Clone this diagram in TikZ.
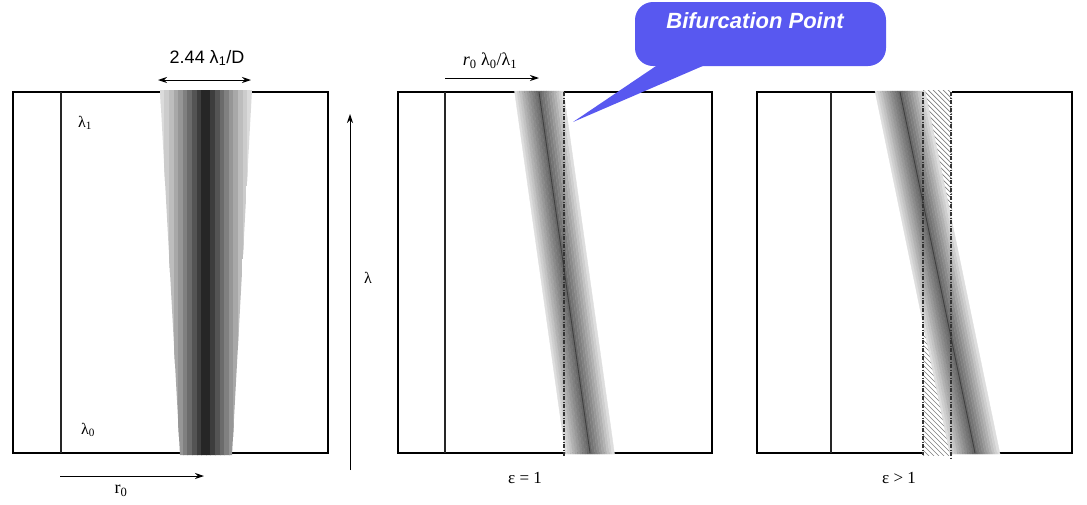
\documentclass[tikz,border=0pt]{standalone}
\usepackage{fontspec}
\setmainfont{Liberation Serif}
\setsansfont{Liberation Sans}
\usetikzlibrary{arrows.meta}
\definecolor{calloutblue}{RGB}{88,88,240}
\tikzset{
  frame/.style={line width=2.2pt, black},
  innerline/.style={line width=1.1pt, black!85},
  dashdot/.style={line width=1.1pt, black!80, dash pattern=on 4pt off 1.5pt on 1pt off 1.5pt},
  arr/.style={-{Stealth[length=9pt,width=6pt]}, line width=1pt},
  dblarr/.style={{Stealth[length=9pt,width=6pt]}-{Stealth[length=9pt,width=6pt]}, line width=1pt},
  lbl/.style={font=\fontsize{16}{18}\selectfont, inner sep=0pt},
  sflbl/.style={font=\sffamily\fontsize{18}{20}\selectfont, inner sep=0pt},
  hatchline/.style={black!50, line width=0.7pt},
}
% slanted band: #1 top centre x, #2 bottom centre x, #3 half width, #4 max dark, #5 min dark
\newcommand\slantband[5]{%
  \foreach \k in {0,...,19}{%
    \pgfmathsetmacro\oa{-#3+\k*#3/10}%
    \pgfmathsetmacro\ob{-#3+(\k+1)*#3/10}%
    \pgfmathsetmacro\dd{abs((\oa+\ob)/2)/#3}%
    \pgfmathtruncatemacro\pc{#5+(#4-#5)*(1-\dd)^0.9}%
    \fill[black!\pc, draw=black!\pc, line width=0.3pt] (#1+\oa,91) -- (#1+\ob,91) -- (#2+\ob,454) -- (#2+\oa,454) -- cycle;
  }%
}
\begin{document}
\begin{tikzpicture}[x=1pt,y=-1pt]
\useasboundingbox (0,0) rectangle (1087,504);

% ---------------- left panel
\draw[frame] (13,92) rectangle (328,453);
\draw[innerline] (61,92) -- (61,453);
\begin{scope}
  \clip (160,90) -- (252,90) -- (232,455) -- (180,455) -- cycle;
  \foreach \k in {0,...,19}{%
    \pgfmathsetmacro\xa{160+\k*4.6}%
    \pgfmathsetmacro\xb{160+(\k+1)*4.6}%
    \pgfmathsetmacro\dd{abs((\xa+\xb)/2-206)/46}%
    \pgfmathtruncatemacro\pc{12+78*(1-\dd)^1.2}%
    \fill[black!\pc, draw=black!\pc, line width=0.3pt] (\xa,90) rectangle (\xb,455);
  }
\end{scope}
\coordinate (wl) at (158,80);
\coordinate (wr) at (251,80);
\draw[dblarr] (wl) -- (wr);
\node[sflbl] (wlab) at (207,58) {2.44 λ\textsubscript{1}/D};
\node[lbl] (l1) at (85,123) {λ\textsubscript{1}};
\node[lbl] (l0) at (88,430) {λ\textsubscript{0}};
\coordinate (ra) at (60,476);
\coordinate (rb) at (204,476);
\draw[arr] (ra) -- (rb);
\node[lbl, font=\fontsize{18}{20}\selectfont] (r0) at (121,491) {r\textsubscript{0}};

% lambda axis
\coordinate (la) at (350,470);
\coordinate (lb) at (350,114);
\draw[arr] (la) -- (lb);
\node[lbl] (lam) at (368,278) {λ};

% ---------------- middle panel
\draw[frame] (398,92) rectangle (712,453);
\draw[innerline] (445,92) -- (445,453);
\slantband{539}{590}{24.5}{62}{10}
\draw[black!75, line width=0.9pt] (539,92) -- (590,453);
\draw[dashdot] (564,92) -- (564,456);
\coordinate (ma) at (445,78);
\coordinate (mb) at (539,78);
\draw[arr] (ma) -- (mb);
\node[lbl, font=\fontsize{18}{20}\selectfont] (mlab) at (490,61) {\textit{r}\textsubscript{0} λ\textsubscript{0}/λ\textsubscript{1}};
\node[lbl, font=\fontsize{17}{19}\selectfont] (e1) at (525,478) {ε = 1};

% ---------------- right panel
\draw[frame] (757,92) rectangle (1072,453);
\draw[innerline] (831,92) -- (831,453);
\fill[white] (923,90) rectangle (952,455);
\begin{scope}
  \clip (923,90) rectangle (952,455);
  \foreach \t in {-40,-35,...,370}{%
    \draw[hatchline] (918,\t+85) -- (960,\t+127);
  }
\end{scope}
\slantband{900}{975}{25}{62}{10}
\draw[black!75, line width=0.9pt] (900,92) -- (975,453);
\draw[dashdot] (923,92) -- (923,455);
\draw[dashdot] (951,92) -- (951,458);
\node[lbl, font=\fontsize{17}{19}\selectfont] (e2) at (899,478) {ε > 1};

% ---------------- callout
\fill[calloutblue, rounded corners=18pt] (635,2) rectangle (886,66);
\fill[calloutblue] (573,122) -- (662,62) -- (712,62) -- cycle;
\node[font=\sffamily\bfseries\itshape\fontsize{22}{24}\selectfont, text=white, inner sep=0pt] (bp) at (755,21) {Bifurcation Point};
\end{tikzpicture}
\end{document}
